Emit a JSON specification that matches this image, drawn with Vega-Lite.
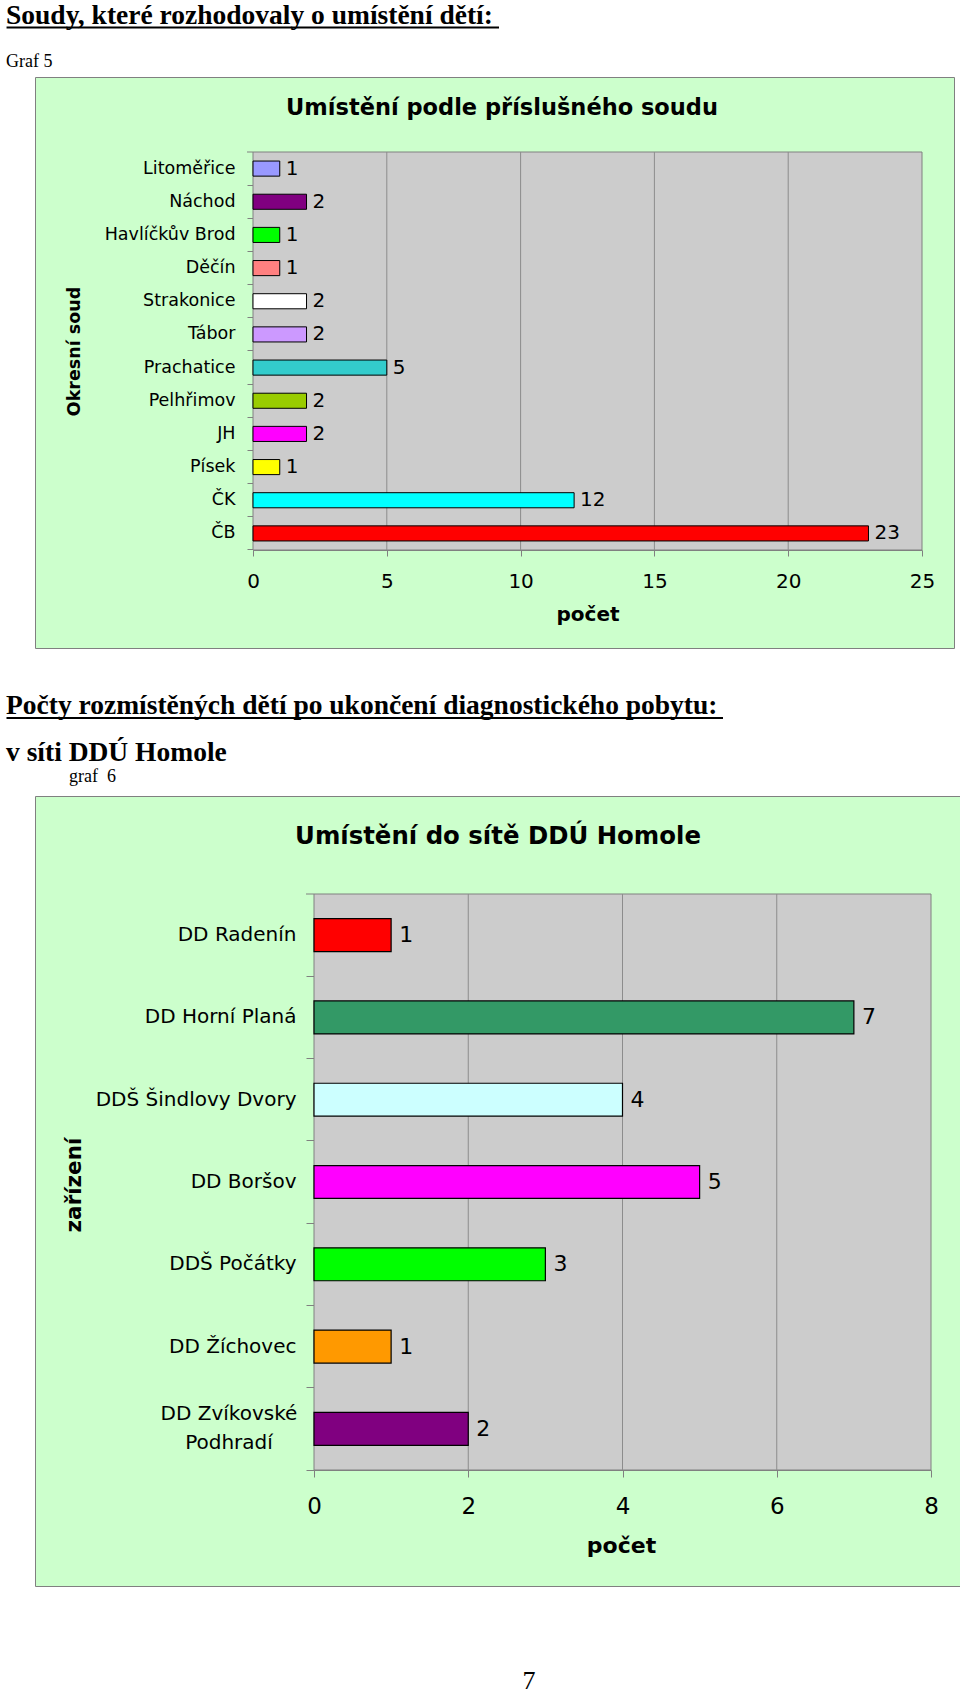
{
  "$schema": "https://vega.github.io/schema/vega-lite/v6.json",
  "padding": {"left": 5, "top": 1, "right": 0, "bottom": 0},
  "background": "white",
  "spacing": 42,
  "resolve": {"scale": {"color": "independent"}},
  "datasets": {
    "soudy": [
      {"soud": "Litoměřice", "pocet": 1},
      {"soud": "Náchod", "pocet": 2},
      {"soud": "Havlíčkův Brod", "pocet": 1},
      {"soud": "Děčín", "pocet": 1},
      {"soud": "Strakonice", "pocet": 2},
      {"soud": "Tábor", "pocet": 2},
      {"soud": "Prachatice", "pocet": 5},
      {"soud": "Pelhřimov", "pocet": 2},
      {"soud": "JH", "pocet": 2},
      {"soud": "Písek", "pocet": 1},
      {"soud": "ČK", "pocet": 12},
      {"soud": "ČB", "pocet": 23}
    ],
    "zarizeni": [
      {"zarizeni": "DD Radenín", "pocet": 1},
      {"zarizeni": "DD Horní Planá", "pocet": 7},
      {"zarizeni": "DDŠ Šindlovy Dvory", "pocet": 4},
      {"zarizeni": "DD Boršov", "pocet": 5},
      {"zarizeni": "DDŠ Počátky", "pocet": 3},
      {"zarizeni": "DD Žíchovec", "pocet": 1},
      {"zarizeni": "DD Zvíkovské Podhradí", "pocet": 2}
    ]
  },
  "vconcat": [
    {
      "width": 919,
      "height": 571,
      "view": {"fill": "#CCFFCC", "stroke": "#808080", "strokeWidth": 1},
      "resolve": {"scale": {"x": "independent", "y": "independent"}, "axis": {"x": "independent", "y": "independent"}},
      "layer": [
        {
          "data": {"values": [{"graf": "Graf 5"}]},
          "mark": {"type": "rect", "fill": "#CCCCCC", "stroke": "#808080", "strokeWidth": 1},
          "encoding": {
            "x": {"datum": 0, "type": "quantitative", "scale": {"domain": [0, 25], "range": [218, 887], "nice": false, "zero": false}, "axis": null},
            "x2": {"datum": 25},
            "y": {"datum": 0, "type": "quantitative", "scale": {"domain": [0, 1], "range": [75, 473], "nice": false, "zero": false}, "axis": null},
            "y2": {"datum": 1}
          }
        },
        {
          "data": {"values": [{"graf": "Graf 5"}]},
          "mark": {"type": "rule", "color": "#808080", "strokeWidth": 1},
          "encoding": {
            "x": {"datum": -0.224, "type": "quantitative", "scale": {"domain": [0, 25], "range": [218, 887], "nice": false, "zero": false}, "axis": null},
            "x2": {"datum": 0},
            "y": {"datum": 0, "type": "quantitative", "scale": {"domain": [0, 1], "range": [75, 473], "nice": false, "zero": false}, "axis": null}
          }
        },
        {
          "data": {"values": [{"graf": "Graf 5"}]},
          "mark": {"type": "text", "text": "Soudy, které rozhodovaly o umístění dětí:", "font": "Liberation Serif", "fontSize": 27.5, "fontWeight": "bold", "align": "left", "baseline": "alphabetic", "color": "black"},
          "encoding": {
            "x": {"datum": -9.23, "type": "quantitative", "scale": {"domain": [0, 25], "range": [218, 887], "nice": false, "zero": false}, "axis": null},
            "y": {"datum": -0.3216, "type": "quantitative", "scale": {"domain": [0, 1], "range": [75, 473], "nice": false, "zero": false}, "axis": null}
          }
        },
        {
          "data": {"values": [{"graf": "Graf 5"}]},
          "mark": {"type": "rule", "color": "black", "strokeWidth": 2},
          "encoding": {
            "x": {"datum": -9.21, "type": "quantitative", "scale": {"domain": [0, 25], "range": [218, 887], "nice": false, "zero": false}, "axis": null},
            "x2": {"datum": 9.193},
            "y": {"datum": -0.3128, "type": "quantitative", "scale": {"domain": [0, 1], "range": [75, 473], "nice": false, "zero": false}, "axis": null}
          }
        },
        {
          "data": {"values": [{"graf": "Graf 5"}]},
          "mark": {"type": "text", "font": "Liberation Serif", "fontSize": 18, "align": "left", "baseline": "alphabetic", "color": "black"},
          "encoding": {
            "text": {"field": "graf"},
            "x": {"datum": -9.23, "type": "quantitative", "scale": {"domain": [0, 25], "range": [218, 887], "nice": false, "zero": false}, "axis": null},
            "y": {"datum": -0.2136, "type": "quantitative", "scale": {"domain": [0, 1], "range": [75, 473], "nice": false, "zero": false}, "axis": null}
          }
        },
        {
          "data": {"values": [{"graf": "Graf 5"}]},
          "mark": {"type": "text", "text": "Umístění podle příslušného soudu", "font": "DejaVu Sans", "fontSize": 22.5, "fontWeight": "bold", "align": "center", "baseline": "middle", "color": "black"},
          "encoding": {
            "x": {"datum": 9.305, "type": "quantitative", "scale": {"domain": [0, 25], "range": [218, 887], "nice": false, "zero": false}, "axis": null},
            "y": {"datum": -0.1106, "type": "quantitative", "scale": {"domain": [0, 1], "range": [75, 473], "nice": false, "zero": false}, "axis": null}
          }
        },
        {
          "data": {"values": [{"v": 5}, {"v": 10}, {"v": 15}, {"v": 20}]},
          "mark": {"type": "rule", "color": "#8C8C8C", "strokeWidth": 1},
          "encoding": {
            "x": {"field": "v", "type": "quantitative", "scale": {"domain": [0, 25], "range": [218, 887], "nice": false, "zero": false}, "axis": null},
            "y": {"datum": 0, "type": "quantitative", "scale": {"domain": [0, 1], "range": [75, 473], "nice": false, "zero": false}, "axis": null},
            "y2": {"datum": 1}
          }
        },
        {
          "data": {"name": "soudy"},
          "mark": {"type": "bar", "stroke": "black", "strokeWidth": 1},
          "encoding": {
            "y": {
              "field": "soud", "type": "nominal", "sort": null,
              "scale": {"domain": ["Litoměřice", "Náchod", "Havlíčkův Brod", "Děčín", "Strakonice", "Tábor", "Prachatice", "Pelhřimov", "JH", "Písek", "ČK", "ČB"], "range": [75, 473], "paddingInner": 0.545, "paddingOuter": 0.2727},
              "axis": {
                "orient": "left", "offset": -218, "title": "Okresní soud", "titleFont": "DejaVu Sans", "titleFontSize": 17.5, "titleFontWeight": "bold", "titleColor": "black",
                "titleAngle": 270, "titleAlign": "center", "titleBaseline": "middle", "titleX": -179, "titleY": 274,
                "labelFont": "DejaVu Sans", "labelFontSize": 17.5, "labelColor": "black", "labelPadding": 12, "labelLimit": 400,
                "tickSize": 6, "tickColor": "#808080", "domainColor": "#808080", "bandPosition": 1.5985, "grid": false
              }
            },
            "x": {
              "field": "pocet", "type": "quantitative",
              "scale": {"domain": [0, 25], "range": [218, 887], "nice": false, "zero": false},
              "axis": {
                "orient": "bottom", "offset": -98, "values": [0, 5, 10, 15, 20, 25], "title": "počet", "titleFont": "DejaVu Sans", "titleFontSize": 20, "titleFontWeight": "bold", "titleColor": "black",
                "titleAlign": "center", "titleBaseline": "middle", "titleX": 552.5, "titleY": 64,
                "labelFont": "DejaVu Sans", "labelFontSize": 20, "labelColor": "black", "labelPadding": 15, "labelFlush": false, "labelOverlap": false,
                "tickSize": 6, "tickColor": "#808080", "domainColor": "#808080", "grid": false
              }
            },
            "color": {
              "field": "soud", "type": "nominal",
              "scale": {"domain": ["Litoměřice", "Náchod", "Havlíčkův Brod", "Děčín", "Strakonice", "Tábor", "Prachatice", "Pelhřimov", "JH", "Písek", "ČK", "ČB"], "range": ["#9999FF", "#800080", "#00FF00", "#FF8080", "#FFFFFF", "#CC99FF", "#33CCCC", "#99CC00", "#FF00FF", "#FFFF00", "#00FFFF", "#FF0000"]},
              "legend": null
            }
          }
        },
        {
          "data": {"name": "soudy"},
          "mark": {"type": "text", "align": "left", "baseline": "middle", "dx": 6, "font": "DejaVu Sans", "fontSize": 20, "color": "black"},
          "encoding": {
            "y": {"field": "soud", "type": "nominal", "sort": null, "scale": {"domain": ["Litoměřice", "Náchod", "Havlíčkův Brod", "Děčín", "Strakonice", "Tábor", "Prachatice", "Pelhřimov", "JH", "Písek", "ČK", "ČB"], "range": [75, 473], "paddingInner": 0.545, "paddingOuter": 0.2727}, "axis": null},
            "x": {"field": "pocet", "type": "quantitative", "scale": {"domain": [0, 25], "range": [218, 887], "nice": false, "zero": false}, "axis": null},
            "text": {"field": "pocet", "type": "quantitative"}
          }
        }
      ]
    },
    {
      "width": 925,
      "height": 790,
      "view": {"fill": "#CCFFCC", "stroke": "#808080", "strokeWidth": 1},
      "resolve": {"scale": {"x": "independent", "y": "independent"}, "axis": {"x": "independent", "y": "independent"}},
      "layer": [
        {
          "data": {"values": [{"graf": "graf\u00a0 6", "strana": "7"}]},
          "mark": {"type": "rect", "fill": "#CCCCCC", "stroke": "#808080", "strokeWidth": 1},
          "encoding": {
            "x": {"datum": 0, "type": "quantitative", "scale": {"domain": [0, 8], "range": [279, 896], "nice": false, "zero": false}, "axis": null},
            "x2": {"datum": 8},
            "y": {"datum": 0, "type": "quantitative", "scale": {"domain": [0, 1], "range": [98, 674], "nice": false, "zero": false}, "axis": null},
            "y2": {"datum": 1}
          }
        },
        {
          "data": {"values": [{"graf": "graf\u00a0 6", "strana": "7"}]},
          "mark": {"type": "rule", "color": "#808080", "strokeWidth": 1},
          "encoding": {
            "x": {"datum": -0.1037, "type": "quantitative", "scale": {"domain": [0, 8], "range": [279, 896], "nice": false, "zero": false}, "axis": null},
            "x2": {"datum": 0},
            "y": {"datum": 0, "type": "quantitative", "scale": {"domain": [0, 1], "range": [98, 674], "nice": false, "zero": false}, "axis": null}
          }
        },
        {
          "data": {"values": [{"graf": "graf\u00a0 6", "strana": "7"}]},
          "mark": {"type": "text", "text": "Počty rozmístěných dětí po ukončení diagnostického pobytu:", "font": "Liberation Serif", "fontSize": 27.5, "fontWeight": "bold", "align": "left", "baseline": "alphabetic", "color": "black"},
          "encoding": {
            "x": {"datum": -3.9935, "type": "quantitative", "scale": {"domain": [0, 8], "range": [279, 896], "nice": false, "zero": false}, "axis": null},
            "y": {"datum": -0.313, "type": "quantitative", "scale": {"domain": [0, 1], "range": [98, 674], "nice": false, "zero": false}, "axis": null}
          }
        },
        {
          "data": {"values": [{"graf": "graf\u00a0 6", "strana": "7"}]},
          "mark": {"type": "rule", "color": "black", "strokeWidth": 2},
          "encoding": {
            "x": {"datum": -3.987, "type": "quantitative", "scale": {"domain": [0, 8], "range": [279, 896], "nice": false, "zero": false}, "axis": null},
            "x2": {"datum": 5.303},
            "y": {"datum": -0.3056, "type": "quantitative", "scale": {"domain": [0, 1], "range": [98, 674], "nice": false, "zero": false}, "axis": null}
          }
        },
        {
          "data": {"values": [{"graf": "graf\u00a0 6", "strana": "7"}]},
          "mark": {"type": "text", "text": "v síti DDÚ Homole", "font": "Liberation Serif", "fontSize": 27.5, "fontWeight": "bold", "align": "left", "baseline": "alphabetic", "color": "black"},
          "encoding": {
            "x": {"datum": -3.9935, "type": "quantitative", "scale": {"domain": [0, 8], "range": [279, 896], "nice": false, "zero": false}, "axis": null},
            "y": {"datum": -0.2309, "type": "quantitative", "scale": {"domain": [0, 1], "range": [98, 674], "nice": false, "zero": false}, "axis": null}
          }
        },
        {
          "data": {"values": [{"graf": "graf\u00a0 6", "strana": "7"}]},
          "mark": {"type": "text", "font": "Liberation Serif", "fontSize": 18, "align": "left", "baseline": "alphabetic", "color": "black"},
          "encoding": {
            "text": {"field": "graf"},
            "x": {"datum": -3.1767, "type": "quantitative", "scale": {"domain": [0, 8], "range": [279, 896], "nice": false, "zero": false}, "axis": null},
            "y": {"datum": -0.1944, "type": "quantitative", "scale": {"domain": [0, 1], "range": [98, 674], "nice": false, "zero": false}, "axis": null}
          }
        },
        {
          "data": {"values": [{"graf": "graf\u00a0 6", "strana": "7"}]},
          "mark": {"type": "text", "text": "Umístění do sítě DDÚ Homole", "font": "DejaVu Sans", "fontSize": 24.4, "fontWeight": "bold", "align": "center", "baseline": "middle", "color": "black"},
          "encoding": {
            "x": {"datum": 2.386, "type": "quantitative", "scale": {"domain": [0, 8], "range": [279, 896], "nice": false, "zero": false}, "axis": null},
            "y": {"datum": -0.099, "type": "quantitative", "scale": {"domain": [0, 1], "range": [98, 674], "nice": false, "zero": false}, "axis": null}
          }
        },
        {
          "data": {"values": [{"graf": "graf\u00a0 6", "strana": "7"}]},
          "mark": {"type": "text", "font": "Liberation Serif", "fontSize": 26, "align": "center", "baseline": "alphabetic", "color": "black"},
          "encoding": {
            "text": {"field": "strana"},
            "x": {"datum": 2.788, "type": "quantitative", "scale": {"domain": [0, 8], "range": [279, 896], "nice": false, "zero": false}, "axis": null},
            "y": {"datum": 1.3802, "type": "quantitative", "scale": {"domain": [0, 1], "range": [98, 674], "nice": false, "zero": false}, "axis": null}
          }
        },
        {
          "data": {"values": [{"v": 2}, {"v": 4}, {"v": 6}]},
          "mark": {"type": "rule", "color": "#8C8C8C", "strokeWidth": 1},
          "encoding": {
            "x": {"field": "v", "type": "quantitative", "scale": {"domain": [0, 8], "range": [279, 896], "nice": false, "zero": false}, "axis": null},
            "y": {"datum": 0, "type": "quantitative", "scale": {"domain": [0, 1], "range": [98, 674], "nice": false, "zero": false}, "axis": null},
            "y2": {"datum": 1}
          }
        },
        {
          "data": {"name": "zarizeni"},
          "mark": {"type": "bar", "stroke": "black", "strokeWidth": 1.2},
          "encoding": {
            "y": {
              "field": "zarizeni", "type": "nominal", "sort": null,
              "scale": {"domain": ["DD Radenín", "DD Horní Planá", "DDŠ Šindlovy Dvory", "DD Boršov", "DDŠ Počátky", "DD Žíchovec", "DD Zvíkovské Podhradí"], "range": [98, 674], "paddingInner": 0.6, "paddingOuter": 0.3},
              "axis": {
                "orient": "left", "offset": -279, "title": "zařízení", "titleFont": "DejaVu Sans", "titleFontSize": 21.5, "titleFontWeight": "bold", "titleColor": "black",
                "titleAngle": 270, "titleAlign": "center", "titleBaseline": "middle", "titleX": -240, "titleY": 388.5,
                "labelFont": "DejaVu Sans", "labelFontSize": 20, "labelColor": "black", "labelLimit": 400, "labelPadding": 10,
                "labelExpr": "datum.value === 'DD Zvíkovské Podhradí' ? '' : datum.label",
                "tickSize": 8, "tickColor": "#808080", "domainColor": "#808080", "bandPosition": 1.75, "grid": false
              }
            },
            "x": {
              "field": "pocet", "type": "quantitative",
              "scale": {"domain": [0, 8], "range": [279, 896], "nice": false, "zero": false},
              "axis": {
                "orient": "bottom", "offset": -116, "values": [0, 2, 4, 6, 8], "title": "počet", "titleFont": "DejaVu Sans", "titleFontSize": 22, "titleFontWeight": "bold", "titleColor": "black",
                "titleAlign": "center", "titleBaseline": "middle", "titleX": 586, "titleY": 75,
                "labelFont": "DejaVu Sans", "labelFontSize": 23, "labelColor": "black", "labelPadding": 18, "labelFlush": false, "labelOverlap": false,
                "tickSize": 7, "tickColor": "#808080", "domainColor": "#808080", "grid": false
              }
            },
            "color": {
              "field": "zarizeni", "type": "nominal",
              "scale": {"domain": ["DD Radenín", "DD Horní Planá", "DDŠ Šindlovy Dvory", "DD Boršov", "DDŠ Počátky", "DD Žíchovec", "DD Zvíkovské Podhradí"], "range": ["#FF0000", "#339966", "#CCFFFF", "#FF00FF", "#00FF00", "#FF9900", "#800080"]},
              "legend": null
            }
          }
        },
        {
          "data": {"name": "zarizeni"},
          "transform": [{"filter": "datum.zarizeni === 'DD Zvíkovské Podhradí'"}],
          "mark": {"type": "text", "text": ["DD Zvíkovské", "Podhradí"], "align": "center", "baseline": "middle", "dy": -14.5, "lineHeight": 29, "font": "DejaVu Sans", "fontSize": 20, "color": "black"},
          "encoding": {
            "y": {"field": "zarizeni", "type": "nominal", "sort": null, "scale": {"domain": ["DD Radenín", "DD Horní Planá", "DDŠ Šindlovy Dvory", "DD Boršov", "DDŠ Počátky", "DD Žíchovec", "DD Zvíkovské Podhradí"], "range": [98, 674], "paddingInner": 0.6, "paddingOuter": 0.3}, "axis": null},
            "x": {"datum": -1.102, "type": "quantitative", "scale": {"domain": [0, 8], "range": [279, 896], "nice": false, "zero": false}, "axis": null}
          }
        },
        {
          "data": {"name": "zarizeni"},
          "mark": {"type": "text", "align": "left", "baseline": "middle", "dx": 8, "font": "DejaVu Sans", "fontSize": 22, "color": "black"},
          "encoding": {
            "y": {"field": "zarizeni", "type": "nominal", "sort": null, "scale": {"domain": ["DD Radenín", "DD Horní Planá", "DDŠ Šindlovy Dvory", "DD Boršov", "DDŠ Počátky", "DD Žíchovec", "DD Zvíkovské Podhradí"], "range": [98, 674], "paddingInner": 0.6, "paddingOuter": 0.3}, "axis": null},
            "x": {"field": "pocet", "type": "quantitative", "scale": {"domain": [0, 8], "range": [279, 896], "nice": false, "zero": false}, "axis": null},
            "text": {"field": "pocet", "type": "quantitative"}
          }
        }
      ]
    }
  ],
  "config": {
    "view": {"stroke": null},
    "font": "DejaVu Sans"
  }
}
